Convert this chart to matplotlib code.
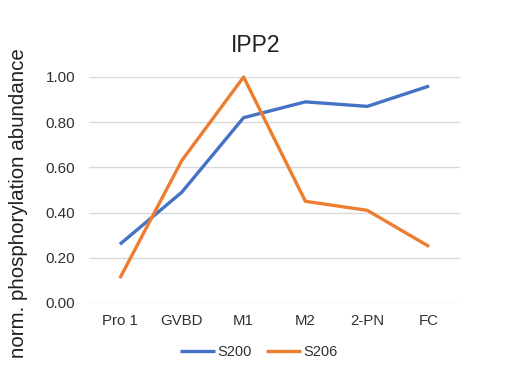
import matplotlib
matplotlib.use("Agg")
import matplotlib.pyplot as plt
import numpy as np

categories = ["Pro 1", "GVBD", "M1", "M2", "2-PN", "FC"]
s200 = [0.26, 0.49, 0.82, 0.89, 0.87, 0.96]
s206 = [0.11, 0.63, 1.00, 0.45, 0.41, 0.25]
yticks = [0.0, 0.2, 0.4, 0.6, 0.8, 1.0]

plt.rcParams['font.family'] = ['Liberation Sans', 'DejaVu Sans']

fig = plt.figure(figsize=(5.1, 3.81), dpi=100)
ax = fig.add_axes([89/510, 1-303/381, (460-89)/510, (303-77)/381])
x = np.arange(len(categories))
ax.plot(x, s200, color="#4472C4", lw=2.4, solid_joinstyle="round", solid_capstyle="butt", clip_on=False, label="S200", zorder=3)
ax.plot(x, s206, color="#ED7D31", lw=2.4, solid_joinstyle="round", solid_capstyle="butt", clip_on=False, label="S206", zorder=3)
ax.set_xlim(-0.5, len(categories)-0.5)
ax.set_ylim(0, 1.0)
ax.set_yticks(yticks)
ax.set_yticklabels([f"{v:.2f}" for v in yticks], fontsize=11, color="#303030")
ax.set_xticks(x)
ax.set_xticklabels(categories, fontsize=10.8, color="#303030")
ax.tick_params(length=0)
ax.tick_params(axis='x', pad=8)
ax.tick_params(axis='y', pad=10)
for v in yticks:
    ax.axhline(v, color="#D9D9D9", lw=1.0, zorder=1)
for s in ax.spines.values():
    s.set_visible(False)
fig.text(19/510, 1-203/381, "norm. phosphorylation abundance", rotation=90,
         ha="center", va="center", fontsize=14.8, color="#202020")
fig.text(256/510, 1-45/381, "IPP2", ha="center", va="center", fontsize=16.5, color="#202020")
leg = fig.legend(loc="center", bbox_to_anchor=(259/510, 1-352/381), ncol=2, frameon=False,
                 fontsize=10.5, handlelength=2.4, handletextpad=0.15, columnspacing=1.0)
for t in leg.get_texts():
    t.set_color("#303030")
fig.savefig("out.png", dpi=100)
